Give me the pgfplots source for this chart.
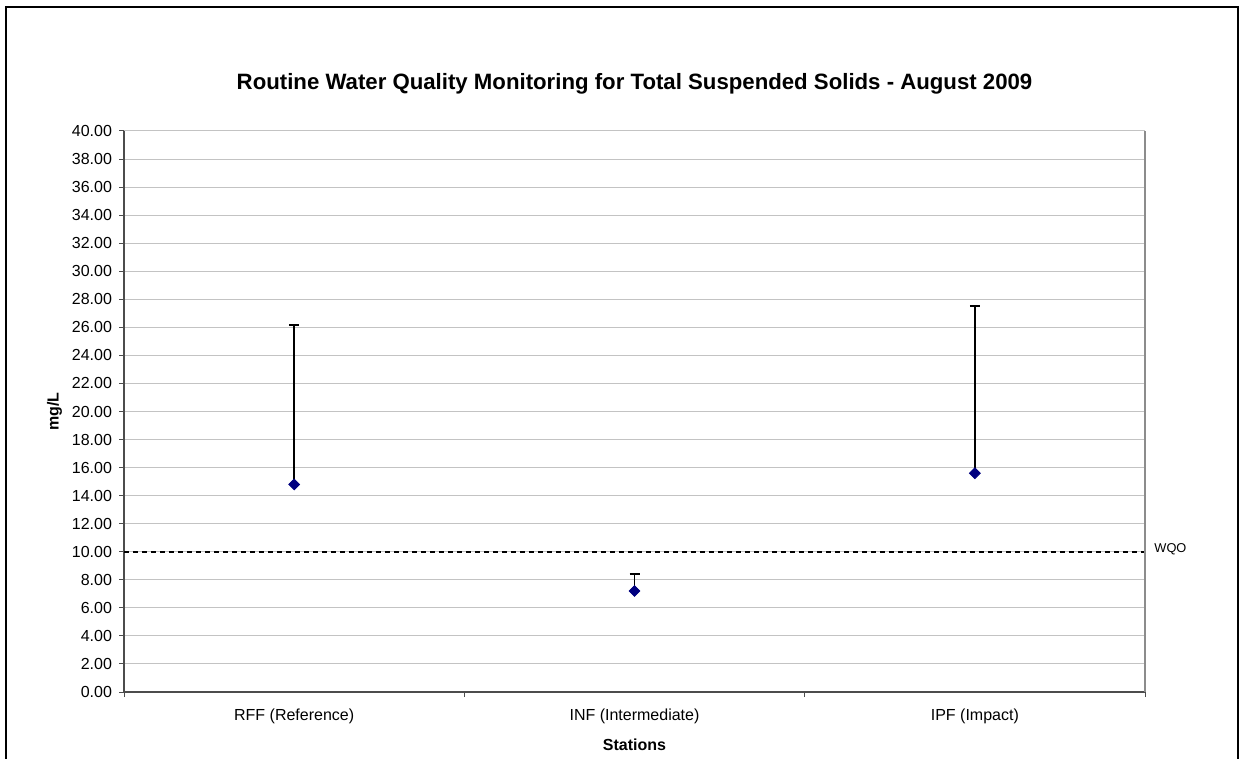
\documentclass[border=0pt]{standalone}
\usepackage{fontspec}
\setmainfont{Liberation Sans}
\usepackage{pgfplots}
\pgfplotsset{compat=1.18}
\definecolor{navymark}{RGB}{0,0,128}
\definecolor{gridgray}{RGB}{195,195,195}
\pgfplotstableread{
x y e
0 14.80 11.37
1 7.20 1.23
2 15.60 11.93
}\tssdata
\begin{document}
\begin{tikzpicture}[x=1bp,y=1bp]
\useasboundingbox (0,0) rectangle (621,379);
\draw[line width=1bp] (3,-10) -- (3,375.6) -- (619,375.6) -- (619,-10);
\begin{axis}[
  at={(62bp,33bp)}, anchor=south west,
  scale only axis, width=510.5bp, height=280.5bp,
  xmin=-0.5, xmax=2.5, ymin=0, ymax=40,
  ytick={0,2,...,40},
  ymajorgrids, grid style={gridgray, line width=0.5bp},
  axis x line*=bottom, axis y line*=left,
  axis line style={-, draw=black!70, line width=0.75bp},
  tick align=outside, major tick length=2.5bp,
  tick style={black!70, line width=0.5bp},
  xtick={-0.5,0.5,1.5,2.5}, xticklabels={},
  extra x ticks={0,1,2},
  extra x tick labels={RFF (Reference),INF (Intermediate),IPF (Impact)},
  extra x tick style={major tick length=0pt, xticklabel style={yshift=-5bp}},
  /pgf/number format/assume math mode=true,
  yticklabel style={/pgf/number format/.cd, fixed, fixed zerofill, precision=2},
  every tick label/.append style={font=\fontsize{8bp}{9.6bp}\selectfont},
  title={Routine Water Quality Monitoring for Total Suspended Solids - August 2009},
  title style={at={(axis description cs:0.5,1.062)}, anchor=center, font=\bfseries\fontsize{11.1bp}{13bp}\selectfont},
  xlabel={Stations},
  xlabel style={at={(axis description cs:0.5,-0.0945)}, anchor=center, font=\bfseries\fontsize{8bp}{9.6bp}\selectfont},
  ylabel={mg/L},
  ylabel style={at={(axis description cs:-0.068,0.5)}, anchor=center, font=\bfseries\fontsize{8bp}{9.6bp}\selectfont},
  clip=false,
]
\addplot[black, dashed, line width=0.75bp, dash pattern=on 2.5bp off 2bp] coordinates {(-0.5,10) (2.5,10)};
\addplot[only marks, mark=square*, mark size=1.9bp,
  mark options={rotate=45, fill=navymark, draw=navymark},
  error bars/.cd, y dir=plus, y explicit,
  error bar style={black, line width=0.75bp},
  error mark=|,
  error mark options={black, rotate=0, mark size=2.5bp, line width=0.75bp}]
  table[x=x, y=y, y error=e] {\tssdata};
\draw[black!45, line width=0.75bp] (rel axis cs:1,0) -- (rel axis cs:1,1);
\node[anchor=west, inner sep=0pt, font=\fontsize{6.4bp}{7.5bp}\selectfont] at (axis cs:2.5,10) [xshift=4.5bp, yshift=1.5bp] {WQO};
\end{axis}
\end{tikzpicture}
\end{document}
